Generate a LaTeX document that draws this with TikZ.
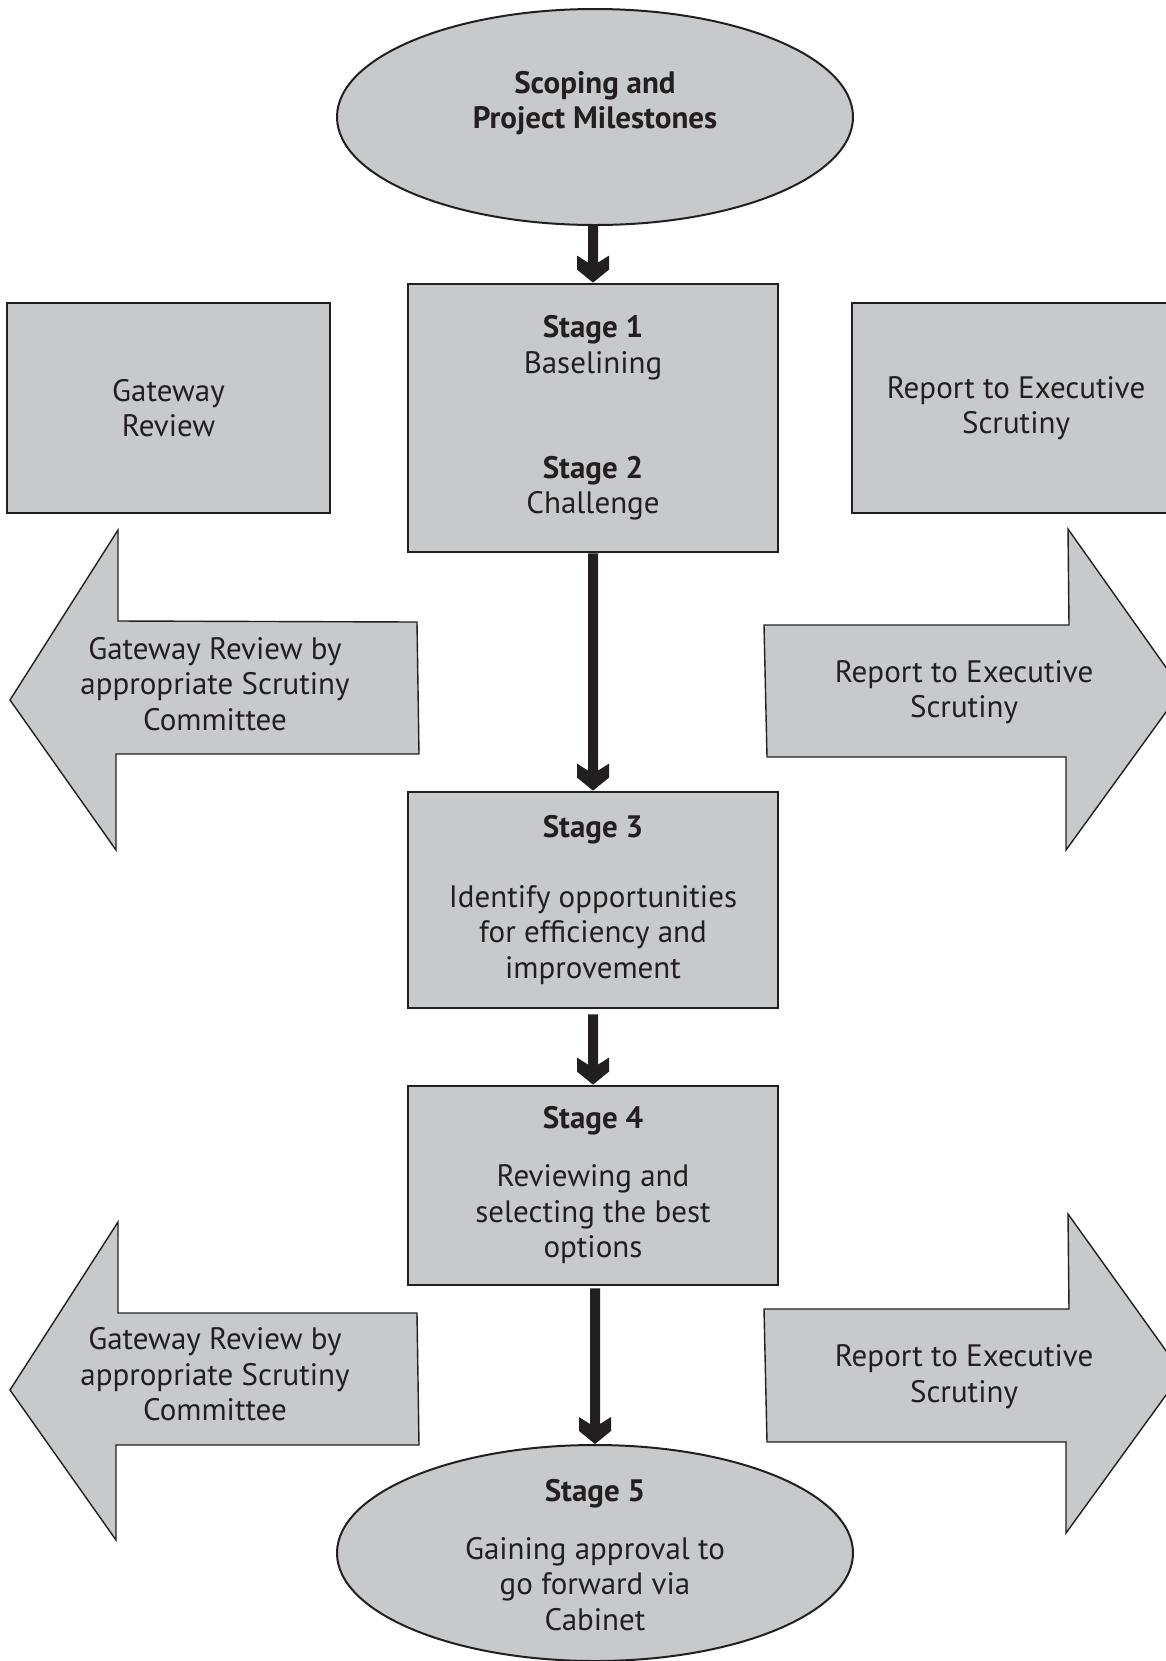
\documentclass[tikz,border=0pt]{standalone}
\usepackage{fontspec}
\setmainfont{PT Sans}
\usetikzlibrary{shapes.geometric,calc}

\definecolor{boxfill}{HTML}{C8C9CB}
\definecolor{ink}{HTML}{231F20}

\newcommand\labelfont{\fontsize{15.5}{17.75}\selectfont}

\tikzset{
  every node/.style={text=ink, font=\labelfont, align=center, inner sep=0pt},
  stagebox/.style={rectangle, draw=ink, line width=1.4pt, fill=boxfill},
  oval/.style={ellipse, draw=ink, line width=1pt, fill=boxfill,
               minimum width=258pt, minimum height=108pt},
  blockarrow/.style={draw=ink, line width=0.7pt, fill=boxfill, line join=miter},
  flow/.style={fill=ink},
}

% thick down arrow from node #2 to node #3, optional gap #1 below #2
\newcommand\flowarrow[3][0]{%
  \fill[flow] (#3.north) -- ++(16,-13) -- ++(0,-14) -- ++(-11,7)
    -- ($(#3.north |- #2.south)+(5,#1)$) -- ($(#3.north |- #2.south)+(-5,#1)$)
    -- ($(#3.north)+(-5,-20)$) -- ++(-11,-7) -- ++(0,14) -- cycle;}

\begin{document}
\begin{tikzpicture}[x=0.5pt,y=-0.5pt]
\useasboundingbox (0,0) rectangle (1166,1661);

% block arrows (drawn first, behind everything)
\draw[blockarrow] (10,700) -- (118,530) -- (118,621) -- (417,622)
  -- (419,754) -- (116,754) -- (116,850) -- cycle;
\draw[blockarrow] (764,625) -- (1069,625) -- (1068,529) -- (1182,690)
  -- (1066,850) -- (1066,757) -- (767,757) -- cycle;
\draw[blockarrow] (10,1390) -- (118,1222) -- (118,1313) -- (417,1313)
  -- (419,1445) -- (116,1445) -- (116,1540) -- cycle;
\draw[blockarrow] (764,1309) -- (1069,1309) -- (1068,1214) -- (1182,1373)
  -- (1066,1533) -- (1066,1442) -- (767,1442) -- cycle;

\node (gwtext1) at (215,684) {Gateway Review by\\appropriate Scrutiny\\Committee};
\node (reptext1) at (964,692) {Report to Executive\\Scrutiny};
\node (gwtext2) at (215,1374.5) {Gateway Review by\\appropriate Scrutiny\\Committee};
\node (reptext2) at (964,1376.5) {Report to Executive\\Scrutiny};

% side boxes (the right one runs past the page edge)
\node[stagebox, minimum width=161.5pt, minimum height=105pt] (gw) at (168.5,408)
  {Gateway\\Review};
\node[stagebox, minimum width=164pt, minimum height=105pt] (rep) at (1016,408)
  {Report to Executive\\Scrutiny};

% main flow
\node[oval] (scope) at (595,117) {};
\node[font=\labelfont\bfseries] (scopetext) at (595,103)
  {Scoping and\\Project Milestones};

\node[stagebox, minimum width=185pt, minimum height=134pt] (s12) at (593,418)
  {\textbf{Stage 1}\\Baselining\\[34.75pt]\textbf{Stage 2}\\Challenge};

\node[stagebox, minimum width=185pt, minimum height=108pt] (s3) at (593,900)
  {\textbf{Stage 3}\\[17.25pt]Identify opportunities\\for efficiency and\\improvement};

\node[stagebox, minimum width=185pt, minimum height=99.5pt] (s4) at (593,1185.5)
  {\textbf{Stage 4}\\[11.25pt]Reviewing and\\selecting the best\\options};

\node[oval] (s5) at (595,1553) {};
\node (s5text) at (595,1555)
  {\textbf{Stage 5}\\[11.25pt]Gaining approval to\\go forward via\\Cabinet};

% connectors
\flowarrow{scope}{s12}
\flowarrow{s12}{s3}
\flowarrow[5]{s3}{s4}
\flowarrow[2]{s4}{s5}
\end{tikzpicture}
\end{document}
